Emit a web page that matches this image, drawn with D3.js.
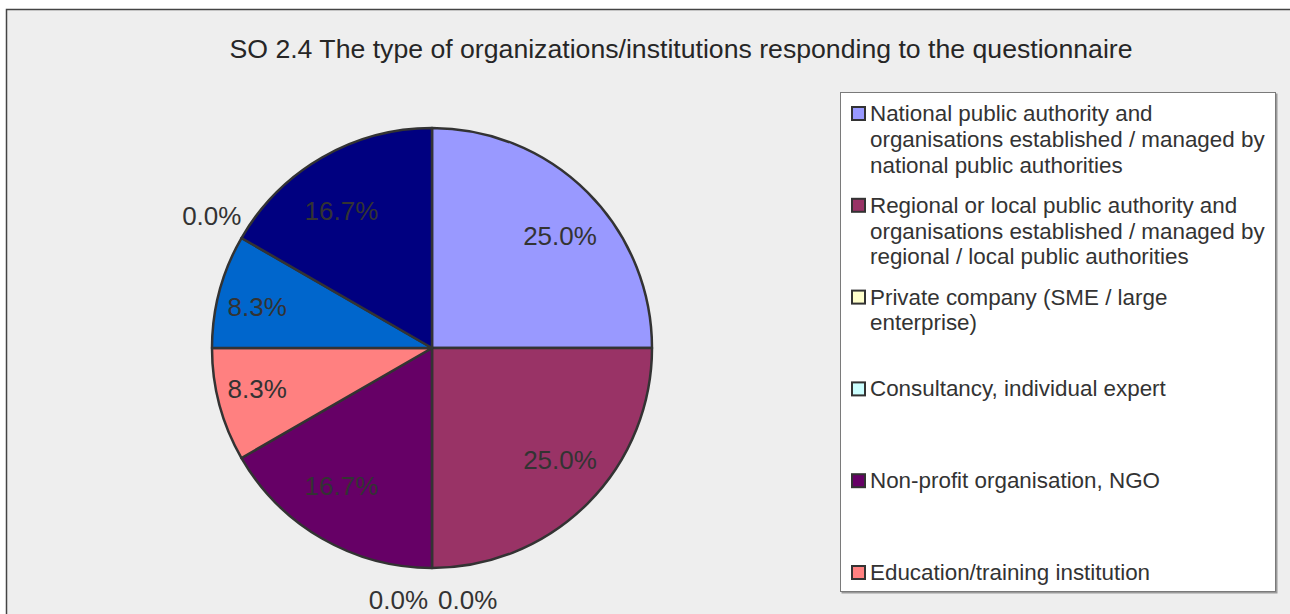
<!DOCTYPE html>
<html>
<head>
<meta charset="utf-8">
<script src="https://cdn.jsdelivr.net/npm/d3@7"></script>
<style>
  html, body { margin: 0; padding: 0; background: #ffffff; }
  svg { display: block; }
  text { font-family: "Liberation Sans", Arial, sans-serif; fill: #333333; }
</style>
</head>
<body>
<svg id="chart" width="1290" height="614"></svg>
<script>
// Respondent types and how many answered in each
const categories = [
  "National public authority and organisations established / managed by national public authorities",
  "Regional or local public authority and organisations established / managed by regional / local public authorities",
  "Private company (SME / large enterprise)",
  "Consultancy, individual expert",
  "Non-profit organisation, NGO",
  "Education/training institution",
  "International organisation",
  "Research institution",
  "Other"
];
const counts = [3, 3, 0, 0, 2, 1, 1, 0, 2];
const colors = ["#9999FF", "#993366", "#FFFFCC", "#CCFFFF", "#660066", "#FF8080", "#0066CC", "#CCCCFF", "#000080"];
const title = "SO 2.4 The type of organizations/institutions responding to the questionnaire";
const legendRows = 6; // entries that fit in the legend box

const W = 1290, H = 614;
const svg = d3.select("#chart");

// Chart area
svg.append("rect")
  .attr("x", 6.5).attr("y", 9.5)
  .attr("width", W + 20).attr("height", H + 20)
  .attr("fill", "#EEEEEE")
  .attr("stroke", "#444444").attr("stroke-width", 1.5);

// Title
svg.append("text")
  .attr("x", 681).attr("y", 58)
  .attr("text-anchor", "middle")
  .attr("font-size", 26)
  .style("font-family", '"Liberation Sans Narrow", "Arial Narrow", "Liberation Sans", sans-serif')
  .style("fill", "#262626")
  .attr("textLength", 903)
  .attr("lengthAdjust", "spacingAndGlyphs")
  .text(title);

// Pie
const cx = 432, cy = 348, R = 220;
const total = d3.sum(counts);
const fmt = d3.format(".1%");
const data = categories.map((c, i) => ({ name: c, count: counts[i], color: colors[i] }));

const pie = d3.pie().sort(null).value(d => d.count);
const arcs = pie(data);
const arc = d3.arc().innerRadius(0).outerRadius(R);

const g = svg.append("g").attr("transform", `translate(${cx},${cy})`);

g.selectAll("path.slice")
  .data(arcs.filter(a => a.data.count > 0))
  .join("path")
  .attr("class", "slice")
  .attr("d", arc)
  .attr("fill", d => d.data.color)
  .attr("stroke", "#333333")
  .attr("stroke-width", 2.5)
  .attr("stroke-linejoin", "round");

// Percentage labels: inside for non-empty slices, outside for empty ones
const labelFont = 26;
const rx = R * 0.823, ry = R * 0.72;
const outerR = R + 32;
const zeroSpots = {};
arcs.forEach(a => {
  const pct = fmt(a.data.count / total);
  let x, y, anchor = "middle";
  if (a.data.count > 0) {
    const m = (a.startAngle + a.endAngle) / 2;
    x = Math.sin(m) * rx;
    y = -Math.cos(m) * ry;
  } else {
    const m = a.startAngle;
    const key = m.toFixed(4);
    const k = zeroSpots[key] = (zeroSpots[key] || 0) + 1;
    x = Math.sin(m) * outerR;
    y = -Math.cos(m) * outerR;
    if (Math.abs(Math.sin(m)) < 0.2) {
      // empty slices meeting at the bottom sit side by side
      if (k === 1) { anchor = "start"; x += 6; } else { anchor = "end"; x -= 4; }
    } else {
      x -= 2; y -= 6;
    }
  }
  g.append("text")
    .attr("x", x).attr("y", y)
    .attr("dy", "0.36em")
    .attr("text-anchor", anchor)
    .attr("font-size", labelFont)
    .text(pct);
});

// Legend
const lx = 840, ly = 92, lw = 436, lh = 500;
svg.append("rect")
  .attr("x", lx + 1.5).attr("y", ly + 1.5)
  .attr("width", lw).attr("height", lh)
  .attr("fill", "#9a9a9a");
svg.append("rect")
  .attr("x", lx + 0.5).attr("y", ly + 0.5)
  .attr("width", lw - 1).attr("height", lh - 1)
  .attr("fill", "#ffffff")
  .attr("stroke", "#7a7a7a").attr("stroke-width", 1);

const legendFont = 22.4, lineH = 25.8;
const textX = 870, maxW = 400;
const firstBase = 121, lastBase = 580;
const slot = (lastBase - firstBase) / (legendRows - 1);
const legend = svg.append("g");

data.slice(0, legendRows).forEach((d, i) => {
  const base = firstBase + i * slot;
  legend.append("rect")
    .attr("x", 852).attr("y", base - 14)
    .attr("width", 13).attr("height", 13)
    .attr("fill", d.color)
    .attr("stroke", "#333333").attr("stroke-width", 2);

  const t = legend.append("text")
    .attr("x", textX).attr("y", base)
    .attr("font-size", legendFont);
  // word-wrap the entry to the legend width
  const words = d.name.split(" ");
  let line = [], lineNo = 0;
  let ts = t.append("tspan").attr("x", textX).attr("y", base);
  words.forEach(w => {
    line.push(w);
    ts.text(line.join(" "));
    if (ts.node().getComputedTextLength() > maxW && line.length > 1) {
      line.pop();
      ts.text(line.join(" "));
      line = [w];
      lineNo++;
      ts = t.append("tspan").attr("x", textX).attr("y", base + lineNo * lineH).text(w);
    }
  });
});
</script>
</body>
</html>
